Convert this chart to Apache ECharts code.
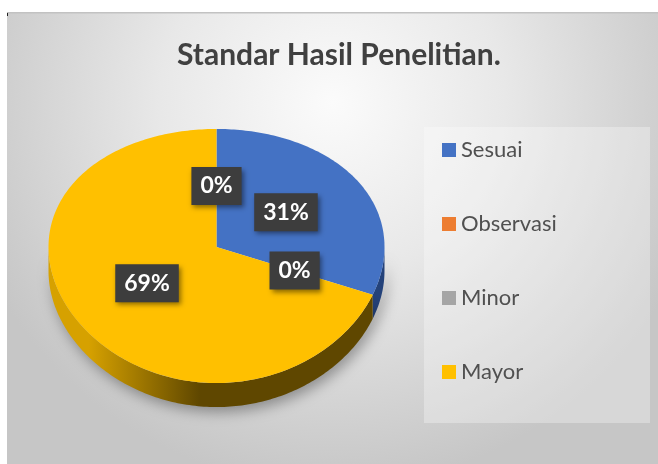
<!DOCTYPE html>
<html>
<head>
<meta charset="utf-8">
<script src="https://cdn.jsdelivr.net/npm/echarts@6/dist/echarts.min.js"></script>
<style>
  html, body { margin: 0; padding: 0; background: #fff; }
  #chart { width: 658px; height: 464px; }
</style>
</head>
<body>
<div id="chart"></div>
<script>
// data
var categories = ['Sesuai', 'Observasi', 'Minor', 'Mayor'];
var values = [31, 0, 0, 69];
var colors = ['#4472C4', '#ED7D31', '#A5A5A5', '#FFC000'];
// darker tones for the visible rim of each slice
var sideColors = [
  ['#2f5190', '#24427a'],
  ['#b55a1e', '#8a4415'],
  ['#7a7a7a', '#5a5a5a'],
  ['#d6a100', '#5f4700']
];
// where the label of a slice sits: middle of slice, or moved to the end of the pie
var labelAt = ['mid', 'mid', 'end', 'mid'];

// layout of the tilted pie
var cx = 216.5, cy = 247, rx = 168, ka = 126.4, kb = 0.0709, depth = 24;

var total = values.reduce(function (s, v) { return s + v; }, 0);
var startAngles = [];
var acc = 0;
values.forEach(function (v) { startAngles.push(acc / total * 360); acc += v; });

function proj(a, r) {
  var rad = a * Math.PI / 180;
  var u = r * Math.sin(rad), v = -r * Math.cos(rad);
  return [cx + rx * u, cy + ka * v / (1 - kb * v)];
}

function arcPoints(a0, a1, r, dy) {
  var pts = [];
  var n = Math.max(2, Math.ceil(a1 - a0));
  for (var k = 0; k <= n; k++) {
    var p = proj(a0 + (a1 - a0) * k / n, r);
    pts.push([p[0], p[1] + (dy || 0)]);
  }
  return pts;
}

function renderSlice(i) {
  return function (params, api) {
    var val = api.value(0);
    var start = startAngles[i];
    var end = start + val / total * 360;
    var children = [];
    if (val > 0) {
      var s0 = Math.max(start, 90), s1 = Math.min(end, 270);
      if (s1 > s0) {
        var top = arcPoints(s0, s1, 1, 0);
        var bottom = arcPoints(s0, s1, 1, depth).reverse();
        children.push({
          type: 'polygon', z2: 1,
          shape: { points: top.concat(bottom) },
          style: {
            fill: {
              type: 'linear', x: cx - rx, y: 0, x2: cx + rx, y2: 0, global: true,
              colorStops: [
                { offset: 0, color: sideColors[i][0] },
                { offset: 0.12, color: sideColors[i][0] },
                { offset: 0.45, color: sideColors[i][1] },
                { offset: 1, color: sideColors[i][1] }
              ]
            },
            shadowBlur: 14, shadowOffsetY: 5, shadowOffsetX: 3,
            shadowColor: 'rgba(0,0,0,0.35)'
          }
        });
      }
      var face = [proj(0, 0)].concat(arcPoints(start, end, 1, 0));
      children.push({
        type: 'polygon', z2: 5,
        shape: { points: face },
        style: { fill: colors[i] }
      });
    }
    var la = labelAt[i] === 'end' ? 360 : (start + end) / 2;
    var lp = proj(la, 0.5);
    children.push({
      type: 'text', z2: 10, x: lp[0], y: lp[1],
      style: {
        text: Math.round(val / total * 100) + '%',
        fill: '#ffffff',
        font: 'bold 23px Lato',
        align: 'center', verticalAlign: 'middle',
        backgroundColor: '#3d3d3d',
        padding: [8, 9, 7, 9],
        shadowBlur: 5, shadowOffsetX: 2, shadowOffsetY: 3,
        shadowColor: 'rgba(0,0,0,0.45)'
      }
    });
    return { type: 'group', children: children };
  };
}

var chart = echarts.init(document.getElementById('chart'));

var series = categories.map(function (name, i) {
  return {
    type: 'custom',
    name: name,
    coordinateSystem: 'none',
    itemStyle: { color: colors[i] },
    data: [values[i]],
    renderItem: renderSlice(i)
  };
});

chart.setOption({
  animation: false,
  title: {
    text: 'Standar Hasil Penelitian.',
    left: 172,
    top: 35,
    textStyle: { fontFamily: 'Lato', fontWeight: 'bold', fontSize: 30, color: '#404040' }
  },
  legend: {
    data: categories,
    orient: 'vertical',
    left: 437,
    top: 133,
    itemGap: 50,
    itemWidth: 14,
    itemHeight: 14,
    icon: 'rect',
    textStyle: { fontFamily: 'Lato', fontSize: 22, color: '#505050', lineHeight: 24 }
  },
  graphic: [
    {
      type: 'rect', z: -10,
      shape: { x: 7, y: 12, width: 651, height: 452 },
      style: {
        fill: {
          type: 'radial', x: 0.5, y: 0.2, r: 0.85,
          colorStops: [
            { offset: 0, color: '#fbfbfb' },
            { offset: 0.45, color: '#e8e8e8' },
            { offset: 1, color: '#c6c6c6' }
          ]
        }
      }
    },
    {
      type: 'rect', z: -9,
      shape: { x: 7, y: 12, width: 651, height: 1.5 },
      style: { fill: '#c2c2c2' }
    },
    {
      type: 'rect', z: -9,
      shape: { x: 7, y: 13, width: 1, height: 3 },
      style: { fill: '#222' }
    },
    {
      type: 'rect', z: -8,
      shape: { x: 424, y: 127, width: 226, height: 296 },
      style: { fill: 'rgba(255,255,255,0.3)' }
    }
  ],
  series: series
});
</script>
</body>
</html>
